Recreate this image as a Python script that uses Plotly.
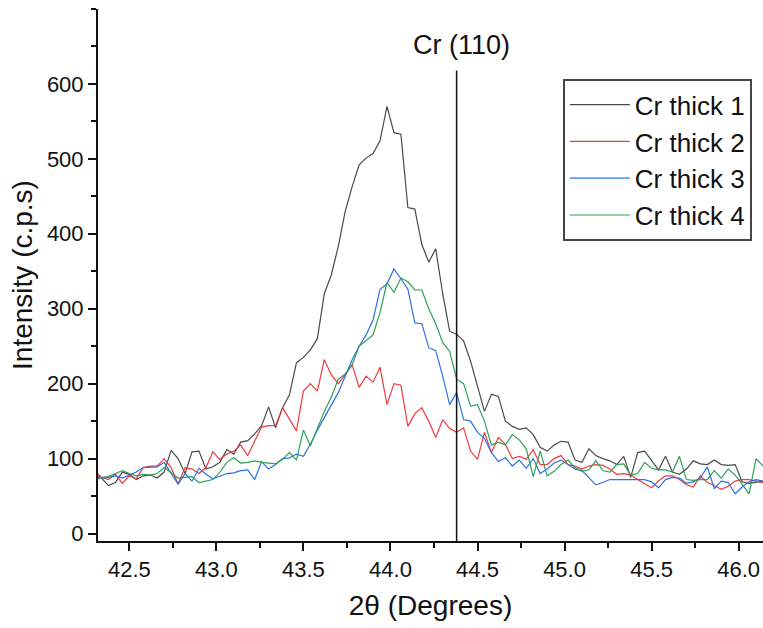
import plotly.graph_objects as go

# 2-theta scan positions (degrees)
TWO_THETA = [
    42.30, 42.34, 42.38, 42.42, 42.46, 42.50, 42.54, 42.58, 42.62, 42.66,
    42.70, 42.74, 42.78, 42.82, 42.86, 42.90, 42.94, 42.98, 43.02, 43.06,
    43.10, 43.14, 43.18, 43.22, 43.26, 43.30, 43.34, 43.38, 43.42, 43.46,
    43.50, 43.54, 43.58, 43.62, 43.66, 43.70, 43.74, 43.78, 43.82, 43.86,
    43.90, 43.94, 43.98, 44.02, 44.06, 44.10, 44.14, 44.18, 44.22, 44.26,
    44.30, 44.34, 44.38, 44.42, 44.46, 44.50, 44.54, 44.58, 44.62, 44.66,
    44.70, 44.74, 44.78, 44.82, 44.86, 44.90, 44.94, 44.98, 45.02, 45.06,
    45.10, 45.14, 45.18, 45.22, 45.26, 45.30, 45.34, 45.38, 45.42, 45.46,
    45.50, 45.54, 45.58, 45.62, 45.66, 45.70, 45.74, 45.78, 45.82, 45.86,
    45.90, 45.94, 45.98, 46.02, 46.06, 46.10, 46.14,
]

cr_thick_1 = [
    80, 74, 64, 68, 82, 79, 72, 77, 78, 74,
    82, 111, 100, 80, 109, 110, 86, 89, 95, 112,
    106, 122, 124, 133, 144, 169, 141, 168, 185, 228,
    235, 245, 260, 320, 345, 383, 430, 463, 492, 501,
    507, 524, 570, 535, 533, 435, 433, 386, 362, 380,
    320, 270, 266, 257, 230, 195, 163, 186, 183, 150,
    143, 139, 141, 132, 115, 110, 118, 123, 122, 98,
    95, 113, 104, 100, 97, 92, 103, 75, 108, 110,
    97, 85, 103, 82, 79, 86, 97, 93, 92, 98,
    92, 91, 92, 69, 67, 68, 70,
]

cr_thick_2 = [
    84, 75, 72, 79, 67, 77, 73, 88, 90, 90,
    100, 88, 66, 88, 86, 80, 88, 109, 99, 106,
    110, 118, 104, 122, 142, 144, 144, 168, 152, 137,
    190, 200, 190, 232, 212, 200, 212, 225, 195, 210,
    202, 222, 172, 200, 198, 143, 160, 168, 150, 128,
    152, 140, 135, 141, 110, 99, 135, 108, 128, 119,
    100, 103, 99, 112, 92, 92, 100, 104, 92, 90,
    86, 90, 92, 91, 86, 79, 80, 78, 72, 66,
    61, 70, 77, 77, 72, 65, 62, 77, 68, 64,
    59, 63, 70, 72, 72, 70, 68,
]

cr_thick_3 = [
    76, 74, 75, 77, 74, 78, 82, 88, 88, 89,
    95, 80, 66, 80, 70, 87, 79, 73, 77, 80,
    81, 84, 85, 72, 96, 86, 92, 100, 101, 106,
    103, 119, 138, 155, 172, 188, 210, 232, 250, 265,
    285, 326, 333, 353, 340, 326, 281, 280, 248, 244,
    210, 172, 188, 152, 150, 135, 127, 108, 96, 101,
    90, 98, 87, 100, 80, 86, 94, 98, 92, 86,
    84, 75, 65, 68, 72, 72, 72, 72, 73, 72,
    69, 61, 72, 75, 74, 67, 69, 74, 89, 60,
    70, 68, 53, 62, 69, 72, 70,
]

cr_thick_4 = [
    70, 75, 76, 80, 84, 80, 77, 79, 78, 80,
    88, 81, 74, 75, 76, 68, 70, 72, 82, 95,
    101, 94, 95, 97, 95, 94, 93, 99, 108, 98,
    138, 117, 141, 163, 182, 206, 213, 225, 250, 258,
    265, 295, 335, 322, 341, 336, 325, 325, 300, 280,
    255, 243, 206, 200, 170, 172, 150, 118, 122, 118,
    132, 125, 113, 76, 110, 77, 83, 92, 98, 88,
    83, 85, 97, 84, 82, 92, 93, 78, 80, 95,
    87, 85, 85, 82, 103, 72, 71, 72, 72, 84,
    74, 86, 78, 66, 53, 100, 90,
]

SERIES = [
    ("Cr thick 1", cr_thick_1, "#4a4a4a"),
    ("Cr thick 2", cr_thick_2, "#ef3b3b"),
    ("Cr thick 3", cr_thick_3, "#2a72e6"),
    ("Cr thick 4", cr_thick_4, "#2e9e5b"),
]

PEAK_POS = 44.38
PEAK_LABEL = "Cr (110)"
X_TICKS = [42.5, 43.0, 43.5, 44.0, 44.5, 45.0, 45.5, 46.0]
Y_TICKS = [0, 100, 200, 300, 400, 500, 600]

FONT = "Arial, Liberation Sans, sans-serif"
INK = "#111111"

fig = go.Figure()
for name, vals, color in SERIES:
    fig.add_trace(go.Scatter(
        x=TWO_THETA, y=vals, mode="lines", name=name,
        line=dict(color=color, width=1.2),
    ))

# Cr (110) reference line
fig.add_shape(type="line", xref="x", yref="y",
              x0=PEAK_POS, x1=PEAK_POS, y0=-10, y1=618,
              line=dict(color=INK, width=1.5))
fig.add_annotation(x=PEAK_POS + 0.03, y=652, xref="x", yref="y",
                   text=PEAK_LABEL, showarrow=False,
                   font=dict(family=FONT, size=27, color=INK))

fig.update_layout(
    width=763, height=628,
    margin=dict(l=98, r=0, t=9, b=87, autoexpand=False),
    paper_bgcolor="white", plot_bgcolor="white",
    font=dict(family=FONT, color=INK),
    showlegend=True,
    legend=dict(
        x=0.699, y=0.868, xanchor="left", yanchor="top",
        bgcolor="white", bordercolor="#444444", borderwidth=2,
        font=dict(family=FONT, size=26, color=INK),
        tracegroupgap=0, itemwidth=60,
    ),
)

fig.update_xaxes(
    range=[42.32, 46.14], automargin=False,
    tickvals=X_TICKS, ticktext=[f"{v:.1f}" for v in X_TICKS],
    ticks="outside", ticklen=8, tickwidth=2, tickcolor=INK,
    minor=dict(dtick=0.25, tick0=42.25, ticks="outside", ticklen=5, tickwidth=2, tickcolor=INK),
    showline=True, linewidth=2, linecolor=INK,
    showgrid=False, zeroline=False,
    tickfont=dict(size=22, color=INK),
    title=dict(text="2θ (Degrees)", font=dict(size=28, color=INK), standoff=14),
)
fig.update_yaxes(
    range=[-10, 700], automargin=False,
    tickvals=Y_TICKS,
    ticks="outside", ticklen=8, tickwidth=2, tickcolor=INK,
    minor=dict(dtick=50, tick0=0, ticks="outside", ticklen=5, tickwidth=2, tickcolor=INK),
    showline=True, linewidth=2, linecolor=INK,
    showgrid=False, zeroline=False,
    tickfont=dict(size=22, color=INK),
    title=dict(text="Intensity (c.p.s)", font=dict(size=28, color=INK), standoff=6),
)

# drop the default 8px page margin so the 763x628 figure fills the window exactly
fig.write_html(
    "out.html",
    config={"displayModeBar": False},
    post_script="document.body.style.margin='0';document.body.style.overflow='hidden';",
)
